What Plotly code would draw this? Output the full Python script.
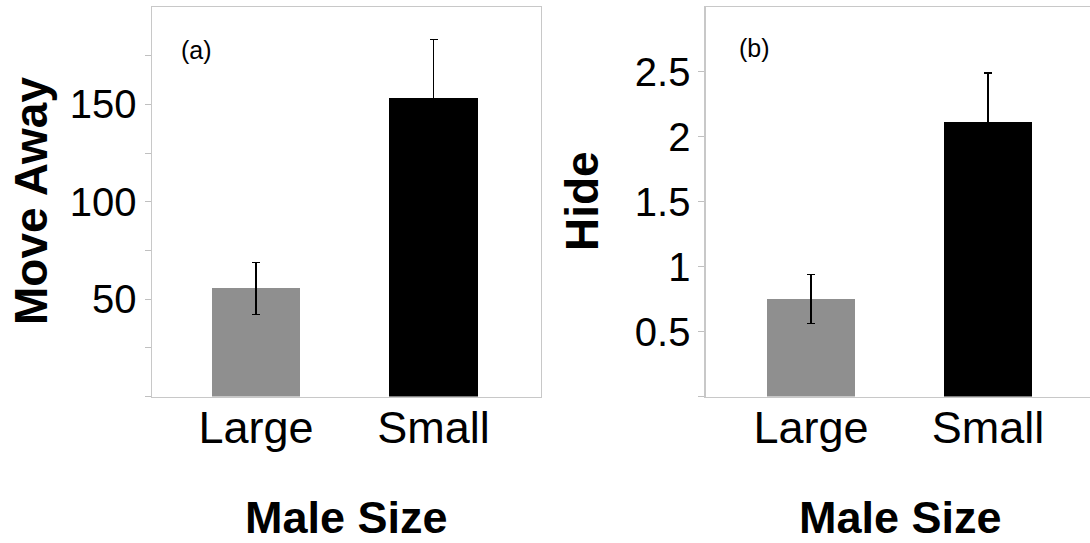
import plotly.graph_objects as go

categories = ["Large", "Small"]
move_away = [55.6, 153.2]
move_away_err = [13.3, 30.0]
hide = [0.752, 2.113]
hide_err = [0.187, 0.378]

move_ticks = [0, 25, 50, 75, 100, 125, 150, 175]
move_ticktext = ["", "", "50", "", "100", "", "150", ""]
hide_ticks = [0, 0.5, 1, 1.5, 2, 2.5]
hide_ticktext = ["", "0.5", "1", "1.5", "2", "2.5"]

bar_colors = ["#8f8f8f", "#000000"]
FONT = "Liberation Sans, Arial, Helvetica, sans-serif"
W, H = 1090, 543

fig = go.Figure()
fig.add_trace(go.Bar(
    x=[0, 1], y=move_away, width=0.5,
    marker=dict(color=bar_colors, line=dict(width=0)),
    error_y=dict(type="data", array=move_away_err, visible=True,
                 color="#000000", thickness=1.2, width=4),
    xaxis="x", yaxis="y", showlegend=False))
fig.add_trace(go.Bar(
    x=[0, 1], y=hide, width=0.5,
    marker=dict(color=bar_colors, line=dict(width=0)),
    error_y=dict(type="data", array=hide_err, visible=True,
                 color="#000000", thickness=1.2, width=4),
    xaxis="x2", yaxis="y2", showlegend=False))


def px(x):
    return x / W


def py(y):
    return (H - y) / H


ytop, ybot = 7, 396.5
ydom = [py(ybot), py(ytop)]

axis_line = dict(showline=True, linecolor="#c8c8c8", linewidth=1.2,
                 showgrid=False, zeroline=False)

fig.update_layout(
    width=W, height=H,
    margin=dict(l=0, r=0, t=0, b=0),
    paper_bgcolor="white", plot_bgcolor="white",
    font=dict(family=FONT, color="black"),
    bargap=0,
    xaxis=dict(domain=[px(151.8), px(541)], range=[-0.587, 1.605],
               tickvals=[0, 1], ticktext=categories, ticks="",
               tickfont=dict(size=45), mirror=True, anchor="y",
               ticklabelstandoff=-9, **axis_line),
    yaxis=dict(domain=ydom, range=[0, 200], tickvals=move_ticks,
               ticktext=move_ticktext, ticks="outside", ticklen=6,
               tickcolor="#c0c0c0", tickwidth=1, mirror=True,
               tickfont=dict(size=40), anchor="x",
               ticklabelstandoff=0, **axis_line),
    xaxis2=dict(domain=[px(705.6), 1.0], range=[-0.595, 1.576],
                tickvals=[0, 1], ticktext=categories, ticks="",
                tickfont=dict(size=45), mirror=True, anchor="y2",
                ticklabelstandoff=-9, **axis_line),
    yaxis2=dict(domain=ydom, range=[0, 3], tickvals=hide_ticks,
                ticktext=hide_ticktext, ticks="outside", ticklen=6,
                tickcolor="#c0c0c0", tickwidth=1, mirror=False,
                tickfont=dict(size=40), anchor="x2",
                ticklabelstandoff=0, **axis_line),
)

annots = [
    dict(text="<b>Move Away</b>", x=px(31), y=py(201), textangle=-90, font=dict(size=46)),
    dict(text="<b>Hide</b>", x=px(582), y=py(201), textangle=-90, font=dict(size=46)),
    dict(text="<b>Male Size</b>", x=px(346), y=py(517), font=dict(size=45)),
    dict(text="<b>Male Size</b>", x=px(900.7), y=py(517), font=dict(size=45)),
    dict(text="(a)", x=px(196), y=py(50), font=dict(size=25)),
    dict(text="(b)", x=px(754), y=py(48), font=dict(size=25)),
]
for a in annots:
    fig.add_annotation(xref="paper", yref="paper", showarrow=False,
                       xanchor="center", yanchor="middle", **a)

fig.write_html(
    "out.html",
    config={"displayModeBar": False, "staticPlot": True},
    post_script="document.body.style.margin='0';document.body.style.padding='0';"
                "document.body.style.overflow='hidden';",
)
